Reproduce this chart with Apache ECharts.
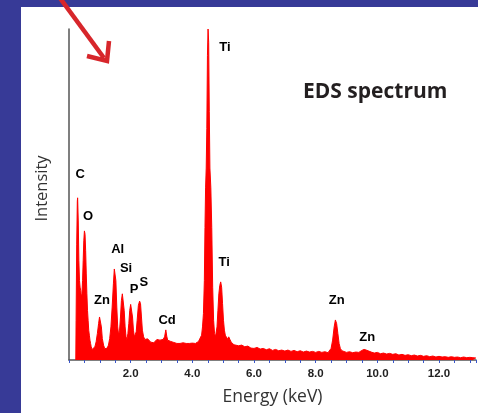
<!DOCTYPE html>
<html>
<head>
<meta charset="utf-8">
<script src="https://cdn.jsdelivr.net/npm/echarts@6/dist/echarts.min.js"></script>
<style>
  html, body { margin: 0; padding: 0; }
  body { width: 478px; height: 413px; background: #373a97; position: relative; overflow: hidden; }
  #panel { position: absolute; left: 21px; top: 7px; right: 0; bottom: 0; background: #fff; }
  #main { position: absolute; left: 0; top: 0; width: 478px; height: 413px; }
</style>
</head>
<body>
<div id="panel"></div>
<div id="main"></div>
<script>
// spectrum, [energy keV, intensity (Ti Ka = 100)]
var specLow = [
  [0.22, 0], [0.23, 12], [0.25, 35], [0.27, 48], [0.28, 49], [0.30, 42], [0.32, 30], [0.34, 24],
  [0.36, 22], [0.38, 21], [0.40, 19], [0.42, 20], [0.44, 24], [0.46, 30], [0.48, 36], [0.50, 39],
  [0.52, 38], [0.54, 33], [0.56, 26], [0.58, 20], [0.60, 15], [0.62, 12], [0.64, 9], [0.66, 7.5],
  [0.68, 6], [0.70, 5], [0.72, 4], [0.75, 3.2], [0.78, 3], [0.81, 3.4], [0.84, 4], [0.88, 5.5],
  [0.92, 8], [0.96, 11], [0.99, 13], [1.02, 12.6], [1.05, 10], [1.08, 6.5], [1.12, 4.5], [1.16, 3.4],
  [1.20, 3.2], [1.24, 3.6], [1.28, 4.5], [1.32, 6.5], [1.36, 10], [1.40, 16], [1.44, 23], [1.47, 27.5],
  [1.49, 28], [1.52, 24], [1.55, 16], [1.58, 10], [1.61, 7.5], [1.64, 9], [1.67, 13], [1.70, 18],
  [1.73, 20], [1.76, 19.5], [1.79, 15], [1.82, 10], [1.85, 7], [1.88, 6.2], [1.91, 8], [1.94, 11],
  [1.97, 15], [2.00, 16.8], [2.03, 16.5], [2.06, 13], [2.09, 9], [2.12, 7], [2.15, 6.5], [2.18, 8.5],
  [2.21, 12], [2.25, 16.5], [2.29, 17.8], [2.32, 17], [2.35, 13], [2.38, 9], [2.42, 7], [2.46, 6.2],
  [2.50, 6], [2.55, 6.4], [2.60, 5.8], [2.65, 5.4], [2.70, 5.8], [2.75, 5.2], [2.80, 5.6], [2.85, 6.2],
  [2.90, 5.6], [2.95, 6.0], [3.00, 5.5], [3.05, 6.2], [3.10, 7.0], [3.14, 9.1], [3.17, 7.2], [3.20, 6.0],
  [3.25, 6.5], [3.30, 5.6], [3.35, 6.0], [3.40, 5.3], [3.45, 5.6], [3.50, 5.0], [3.55, 5.4], [3.60, 5.0],
  [3.65, 4.8], [3.70, 5.2], [3.75, 4.7], [3.80, 5.0], [3.85, 4.6], [3.90, 5.0], [3.95, 4.7], [4.00, 5.1],
  [4.05, 4.8], [4.10, 5.0], [4.15, 5.2], [4.20, 5.6], [4.25, 6.2]
];
var specTi = [
  [4.30, 7.5], [4.33, 10], [4.36, 14], [4.39, 24], [4.41, 40], [4.43, 52], [4.45, 58], [4.47, 70],
  [4.49, 92], [4.51, 100], [4.53, 96], [4.55, 75], [4.57, 58], [4.60, 52], [4.63, 40], [4.66, 22],
  [4.69, 12], [4.72, 8], [4.75, 7], [4.77, 7], [4.80, 10], [4.83, 15], [4.86, 20], [4.89, 22.5],
  [4.92, 23.6], [4.95, 22], [4.98, 17], [5.01, 12], [5.04, 9], [5.07, 7.5], [5.10, 7.0], [5.14, 6.3],
  [5.18, 7.0], [5.22, 6.2], [5.26, 5.4], [5.30, 5.0], [5.35, 4.6]
];
var specHigh = [
  [5.40, 4.6], [5.50, 4.3], [5.60, 4.5], [5.70, 4.0], [5.80, 4.2], [5.90, 3.6], [6.00, 3.5], [6.10, 3.8],
  [6.20, 3.3], [6.30, 3.5], [6.40, 3.1], [6.50, 3.4], [6.60, 2.9], [6.70, 3.2], [6.80, 2.8], [6.90, 3.0],
  [7.00, 2.7], [7.10, 3.0], [7.20, 2.6], [7.30, 2.9], [7.40, 2.5], [7.50, 2.8], [7.60, 2.4], [7.70, 2.7],
  [7.80, 2.4], [7.90, 2.6], [8.00, 2.3], [8.10, 2.6], [8.20, 2.3], [8.30, 2.5], [8.40, 2.2], [8.45, 2.6],
  [8.50, 3.5], [8.55, 6], [8.60, 10], [8.64, 12.1], [8.68, 11], [8.72, 8], [8.76, 5], [8.80, 3.5],
  [8.85, 2.8], [8.90, 2.6], [9.00, 2.3], [9.10, 2.5], [9.20, 2.2], [9.30, 2.4], [9.40, 2.3], [9.45, 2.6],
  [9.50, 2.9], [9.57, 3.2], [9.64, 3.0], [9.70, 2.6], [9.80, 2.4], [9.90, 2.1], [10.00, 2.3], [10.10, 1.9],
  [10.20, 2.1], [10.30, 1.8], [10.40, 2.0], [10.50, 1.7], [10.60, 1.9], [10.70, 1.5], [10.80, 1.7], [10.90, 1.4],
  [11.00, 1.6], [11.10, 1.3], [11.20, 1.5], [11.30, 1.2], [11.40, 1.4], [11.50, 1.1], [11.60, 1.3], [11.70, 1.0],
  [11.80, 1.2], [11.90, 0.9], [12.00, 1.1], [12.10, 0.9], [12.20, 1.0], [12.30, 0.8], [12.40, 1.0], [12.50, 0.8],
  [12.60, 0.9], [12.70, 0.7], [12.80, 0.9], [12.90, 0.7], [13.00, 0.8], [13.10, 0.7], [13.20, 0.6]
];

// element labels (centre of text, in data units)
var peakNames = ['Ti', 'C', 'O', 'Al', 'Si', 'P', 'S', 'Zn', 'Cd', 'Ti', 'Zn', 'Zn'];
var peakX = [5.06, 0.36, 0.62, 1.58, 1.85, 2.11, 2.43, 1.07, 3.18, 5.03, 8.68, 9.67];
var peakY = [94.3, 56.0, 43.5, 33.5, 27.8, 21.2, 23.4, 18.1, 12.1, 29.6, 18.1, 6.9];

var xTicks = [0, 2, 4, 6, 8, 10, 12];

var spectrum = specLow.concat(specTi, specHigh);
var labelData = peakNames.map(function (n, i) {
  return { name: n, value: [peakX[i], peakY[i]] };
});

var chart = echarts.init(document.getElementById('main'));
chart.setOption({
  animation: false,
  backgroundColor: 'transparent',
  title: {
    text: 'EDS spectrum',
    left: 303, top: 82, padding: 0,
    textStyle: { fontFamily: 'Open Sans', fontSize: 21, fontWeight: 'bold', color: '#231f20' }
  },
  grid: { left: 69, right: 2, top: 29, bottom: 53 },
  xAxis: {
    type: 'value', min: 0, max: 13.2, interval: 2,
    name: 'Energy (keV)', nameLocation: 'middle', nameGap: 28,
    nameTextStyle: { fontFamily: 'Open Sans', fontSize: 17.5, color: '#333' },
    axisLine: { lineStyle: { color: '#555', width: 1.5 } },
    axisTick: { show: true, length: 3, lineStyle: { color: '#3a56c8' } },
    minorTick: { show: true, splitNumber: 4, length: 3, lineStyle: { color: '#3a56c8' } },
    splitLine: { show: false },
    axisLabel: {
      margin: 8, showMaxLabel: false,
      fontFamily: 'Arial', fontSize: 11.5, fontWeight: 'bold', color: '#222',
      formatter: function (v) { return xTicks.indexOf(v) > 0 ? v.toFixed(1) : ''; }
    }
  },
  yAxis: {
    type: 'value', min: 0, max: 100,
    name: 'Intensity', nameLocation: 'middle', nameGap: 18, nameRotate: 90,
    nameTextStyle: { fontFamily: 'Open Sans', fontSize: 16.5, color: '#333', padding: [0, 0, 0, 12] },
    axisLine: { show: true, lineStyle: { color: '#555', width: 1.5 } },
    axisTick: { show: false },
    axisLabel: { show: false },
    splitLine: { show: false }
  },
  series: [
    {
      type: 'line', data: spectrum, showSymbol: false, symbol: 'none',
      lineStyle: { color: '#ff0000', width: 1 },
      areaStyle: { color: '#ff0000', opacity: 1 },
      z: 2
    },
    {
      type: 'scatter', data: labelData, symbolSize: 1,
      itemStyle: { color: 'rgba(0,0,0,0)', opacity: 1 },
      label: {
        show: true, position: 'inside', formatter: '{b}', opacity: 1,
        fontFamily: 'Arial', fontSize: 13, fontWeight: 'bold', color: '#000'
      },
      z: 3
    }
  ],
  graphic: [
    {
      type: 'polyline', z: 10,
      shape: { points: [[57, -6], [104, 58]] },
      style: { stroke: '#d7262b', lineWidth: 4.5, fill: null }
    },
    {
      type: 'polyline', z: 10,
      shape: { points: [[87, 56], [107, 61], [109, 41]] },
      style: { stroke: '#d7262b', lineWidth: 4.5, fill: null, lineJoin: 'miter' }
    }
  ]
});
</script>
</body>
</html>
